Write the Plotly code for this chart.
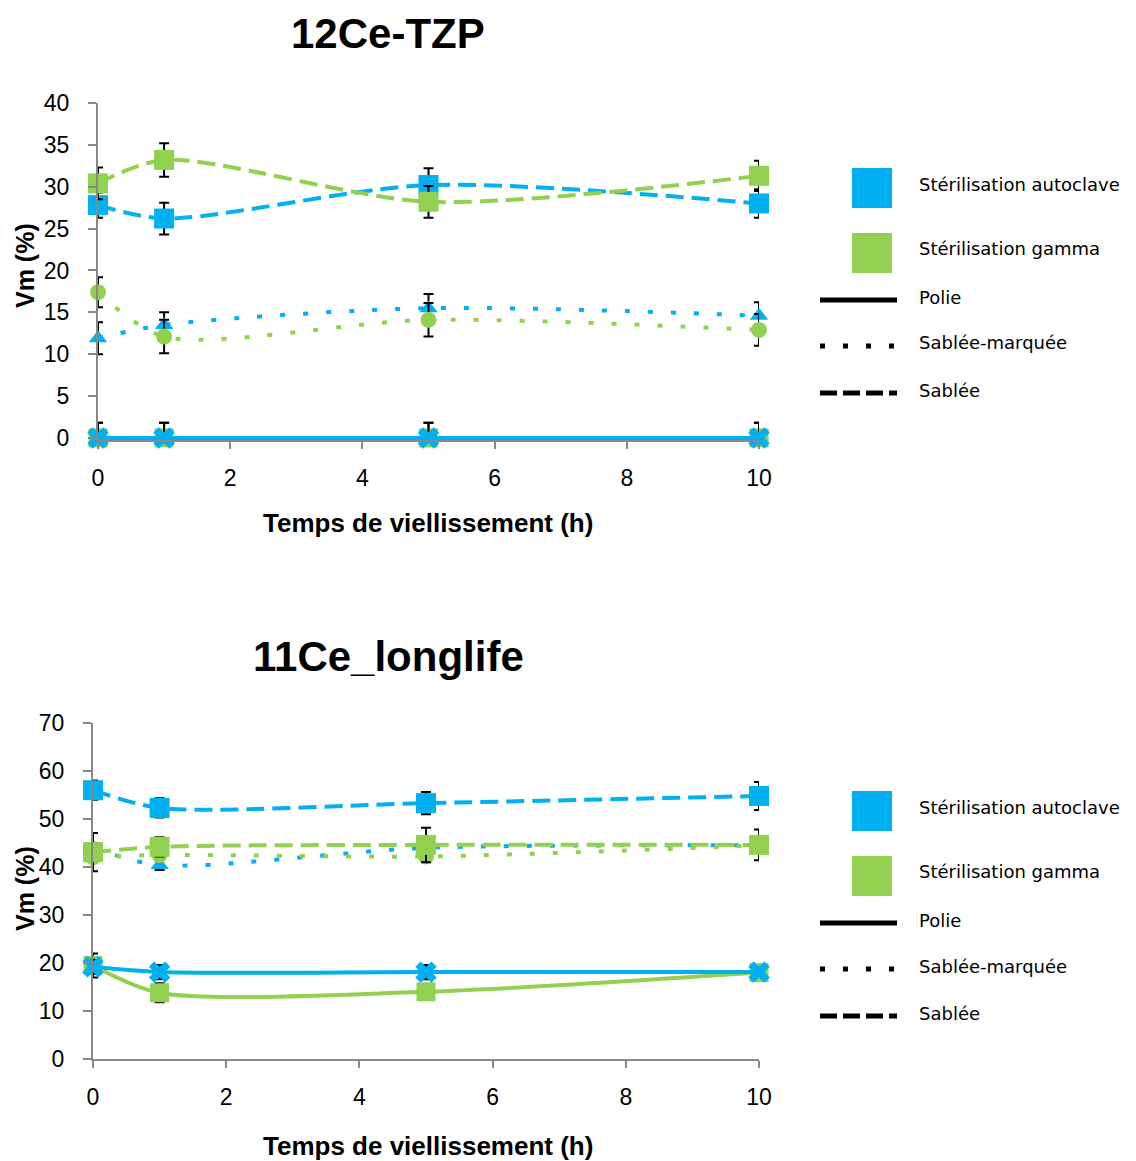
import plotly.graph_objects as go

# ---------------- data ----------------
hours = [0, 1, 5, 10]
x_ticks = [0, 2, 4, 6, 8, 10]

series_names = ["Stérilisation autoclave", "Stérilisation gamma"]
surface_names = ["Polie", "Sablée-marquée", "Sablée"]

# 12Ce-TZP
tzp_auto_polie = [0, 0, 0, 0]
tzp_gamma_polie = [0, 0, 0, 0]
tzp_auto_marquee = [11.9, 13.5, 15.5, 14.6]
tzp_gamma_marquee = [17.4, 12.1, 14.1, 12.9]
tzp_auto_sablee = [27.8, 26.2, 30.2, 28.0]
tzp_gamma_sablee = [30.4, 33.2, 28.2, 31.3]

tzp_err_polie = [1.8, 1.8, 1.8, 1.8]
tzp_err_auto_marquee = [1.9, 1.5, 1.7, 1.6]
tzp_err_gamma_marquee = [1.8, 2.0, 2.0, 1.9]
tzp_err_auto_sablee = [1.5, 1.9, 2.0, 1.7]
tzp_err_gamma_sablee = [1.9, 2.0, 1.9, 1.8]

# 11Ce_longlife
ll_auto_polie = [19.2, 18.1, 18.1, 18.1]
ll_gamma_polie = [19.5, 13.8, 14.0, 18.0]
ll_auto_marquee = [44.0, 40.4, 44.0, 44.5]
ll_gamma_marquee = [42.0, 42.5, 42.2, 44.5]
ll_auto_sablee = [56.0, 52.3, 53.3, 54.8]
ll_gamma_sablee = [43.1, 44.2, 44.6, 44.6]

ll_err_auto_polie = [1.5, 1.5, 1.5, 1.0]
ll_err_gamma_polie = [2.5, 2.0, 1.5, 1.0]
ll_err_auto_marquee = [1.0, 1.0, 1.0, 1.0]
ll_err_gamma_marquee = [1.0, 1.0, 1.0, 1.0]
ll_err_auto_sablee = [2.0, 2.0, 2.3, 2.9]
ll_err_gamma_sablee = [4.0, 2.0, 3.6, 3.2]

# ---------------- style ----------------
OFF = 8                      # default page body margin
W, H = 1136 - OFF, 1161 - OFF
BLUE = "#00B0F0"
GREEN = "#92D050"
AXIS = "#888888"
SANS = "Liberation Sans, Arial, sans-serif"
LEG_FONT = "DejaVu Sans, Verdana, sans-serif"
DASH = "18px,8px"
DOT = "5px,18px"


def fx(p):
    return (p - OFF) / W


def fy(p):
    return 1 - (p - OFF) / H


fig = go.Figure()


def add(y, plus, minus, color, dash, symbol, msize, xa, ya):
    fig.add_trace(go.Scatter(
        x=hours, y=y, mode="lines+markers", xaxis=xa, yaxis=ya,
        line=dict(color=color, width=4, dash=dash, shape="spline", smoothing=0.8),
        marker=dict(color=color, symbol=symbol, size=msize,
                    line=dict(width=0)),
        error_y=dict(type="data", symmetric=False, array=plus, arrayminus=minus,
                     color="black", thickness=2, width=5),
        cliponaxis=False, showlegend=False, hoverinfo="x+y"))


# Top chart
add(tzp_auto_marquee, tzp_err_auto_marquee, tzp_err_auto_marquee, BLUE, DOT, "triangle-up", 16, "x", "y")
add(tzp_gamma_marquee, tzp_err_gamma_marquee, tzp_err_gamma_marquee, GREEN, DOT, "circle", 16, "x", "y")
add(tzp_auto_sablee, tzp_err_auto_sablee, tzp_err_auto_sablee, BLUE, DASH, "square", 20, "x", "y")
add(tzp_gamma_sablee, tzp_err_gamma_sablee, tzp_err_gamma_sablee, GREEN, DASH, "square", 20, "x", "y")
add(tzp_gamma_polie, tzp_err_polie, [0, 0, 0, 0], GREEN, "solid", "square", 19, "x", "y")
add(tzp_auto_polie, tzp_err_polie, [0, 0, 0, 0], BLUE, "solid", "x", 19, "x", "y")

# Bottom chart
add(ll_auto_marquee, ll_err_auto_marquee, ll_err_auto_marquee, BLUE, DOT, "triangle-up", 16, "x2", "y2")
add(ll_gamma_marquee, ll_err_gamma_marquee, ll_err_gamma_marquee, GREEN, DOT, "circle", 16, "x2", "y2")
add(ll_auto_sablee, ll_err_auto_sablee, ll_err_auto_sablee, BLUE, DASH, "square", 20, "x2", "y2")
add(ll_gamma_sablee, ll_err_gamma_sablee, ll_err_gamma_sablee, GREEN, DASH, "square", 20, "x2", "y2")
add(ll_gamma_polie, ll_err_gamma_polie, ll_err_gamma_polie, GREEN, "solid", "square", 19, "x2", "y2")
add(ll_auto_polie, ll_err_auto_polie, ll_err_auto_polie, BLUE, "solid", "x", 19, "x2", "y2")

xax = dict(range=[0, 10], tickvals=x_ticks, showgrid=False, zeroline=False,
           showline=True, linecolor=AXIS, linewidth=2, ticks="outside",
           ticklen=7, tickwidth=2, tickcolor=AXIS, ticklabelstandoff=9,
           tickfont=dict(family=SANS, size=23, color="black"))
yax = dict(showgrid=False, zeroline=False, showline=True, linecolor=AXIS,
           linewidth=2, ticks="outside", ticklen=8, tickwidth=2, tickcolor=AXIS,
           ticklabelstandoff=14, tickfont=dict(family=SANS, size=23, color="black"))

fig.update_layout(
    width=W, height=H, margin=dict(l=0, r=0, t=0, b=0, autoexpand=False),
    paper_bgcolor="white", plot_bgcolor="white",
    xaxis=dict(xax, domain=[fx(98), fx(759)], anchor="y"),
    yaxis=dict(yax, domain=[fy(440), fy(103)], range=[-0.25, 40], tick0=0, dtick=5, anchor="x"),
    xaxis2=dict(xax, domain=[fx(93), fx(759)], anchor="y2"),
    yaxis2=dict(yax, domain=[fy(1059), fy(723)], range=[0, 70], dtick=10, anchor="x2"),
)

ann = []
shapes = []


def text(x, y, s, size, family, bold=False, xanchor="center", angle=0):
    ann.append(dict(x=fx(x), y=fy(y), xref="paper", yref="paper", text=(f"<b>{s}</b>" if bold else s),
                    showarrow=False, xanchor=xanchor, yanchor="middle", textangle=angle,
                    font=dict(family=family, size=size, color="black")))


titles = ["12Ce-TZP", "11Ce_longlife"]
for k, off in enumerate([0, 623]):
    text(388, 33 + off, titles[k], 42, SANS, bold=True)
    text(428, 523 + off, "Temps de viellissement (h)", 26, SANS, bold=True)
    text(25, 266 + off, "Vm (%)", 25, SANS, bold=True, angle=-90)
    # legend
    for i, (c, yc) in enumerate([(BLUE, 188), (GREEN, 253)]):
        shapes.append(dict(type="rect", xref="paper", yref="paper",
                           x0=fx(852), x1=fx(892), y0=fy(yc + off + 20), y1=fy(yc + off - 20),
                           fillcolor=c, line=dict(width=0)))
        text(917, yc - 4 + off, series_names[i], 18, LEG_FONT, xanchor="left")
    for j, (d, yc) in enumerate([("solid", 300), (DOT, 346), ("17px,6px", 393)]):
        shapes.append(dict(type="line", xref="paper", yref="paper",
                           x0=fx(820), x1=fx(897), y0=fy(yc + off), y1=fy(yc + off),
                           line=dict(color="black", width=5, dash=d)))
        text(917, yc - 3 + off, surface_names[j], 18, LEG_FONT, xanchor="left")

fig.update_layout(annotations=ann, shapes=shapes)
fig.write_html("out.html")
